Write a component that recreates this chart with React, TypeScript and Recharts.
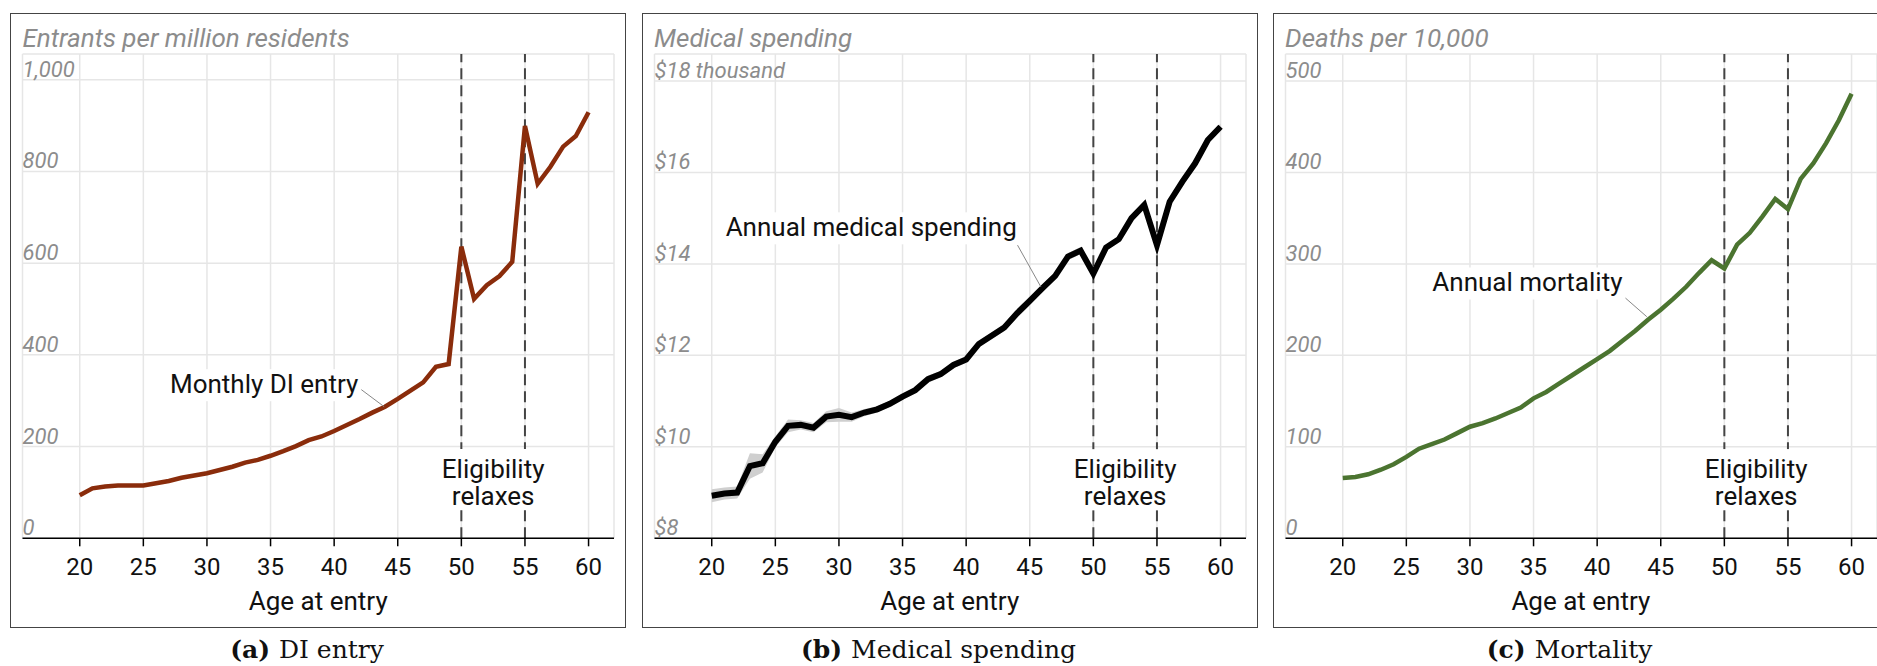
import React from 'react';
import {
  ComposedChart,
  Line,
  Area,
  XAxis,
  YAxis,
  CartesianGrid,
  ReferenceLine,
  ReferenceDot,
} from 'recharts';

// age at entry, one point per year
const ages = [
  20, 21, 22, 23, 24, 25, 26, 27, 28, 29,
  30, 31, 32, 33, 34, 35, 36, 37, 38, 39,
  40, 41, 42, 43, 44, 45, 46, 47, 48, 49,
  50, 51, 52, 53, 54, 55, 56, 57, 58, 59,
  60,
];

// monthly DI entrants per million residents
const diEntry = [
  94, 109, 113, 115, 115, 115, 120, 125, 132, 137,
  142, 149, 156, 165, 171, 180, 190, 201, 214, 222,
  234, 247, 260, 274, 287, 304, 322, 340, 374, 380,
  636, 522, 552, 572, 603, 899, 773, 810, 854, 877,
  929,
];

// annual medical spending, $ thousand
const medSpending = [
  8.93, 8.98, 9.0, 9.58, 9.64, 10.11, 10.46, 10.48, 10.42, 10.66,
  10.7, 10.65, 10.75, 10.82, 10.94, 11.1, 11.24, 11.48, 11.59, 11.79,
  11.91, 12.25, 12.43, 12.61, 12.92, 13.19, 13.47, 13.74, 14.16, 14.29,
  13.79, 14.36, 14.54, 15.0, 15.29, 14.41, 15.36, 15.8, 16.2, 16.71,
  17.0,
];

// half width of the grey confidence band around medical spending
const medBand = [
  0.14, 0.13, 0.13, 0.28, 0.2, 0.12, 0.14, 0.1, 0.1, 0.12,
  0.15, 0.1, 0.08, 0.07, 0.07, 0.07, 0.07, 0.08, 0.07, 0.07,
  0.07, 0.07, 0.07, 0.08, 0.1, 0.1, 0.08, 0.07, 0.08, 0.08,
  0.07, 0.07, 0.07, 0.07, 0.07, 0.07, 0.07, 0.07, 0.07, 0.07,
  0.07,
];

// annual deaths per 10,000
const mortality = [
  66, 67, 70, 75, 81, 89, 98, 103, 108, 115,
  122, 126, 131, 137, 143, 153, 160, 169, 178, 187,
  196, 205, 216, 227, 239, 250, 262, 275, 290, 304,
  295, 321, 334, 352, 371, 360, 393, 410, 432, 457,
  486,
];

const ageTicks = [20, 25, 30, 35, 40, 45, 50, 55, 60];
const diTicks = [0, 200, 400, 600, 800, 1000];
const medTicks = [8, 10, 12, 14, 16, 18];
const mortTicks = [0, 100, 200, 300, 400, 500];
const cutoffs = [50, 55];

const FONT = 'Roboto, Lato, sans-serif';
const SERIF = '"DejaVu Serif", serif';
const BOX_W = 616;
const BOX_TOP = 12.5;
const BOX_H = 615.5;
const PAD = 12.5;
const PLOT_W = 591.5;
const PLOT_TOP = 54;
const PLOT_BOTTOM = 538.3;
const CHART_H = 666;
const XAXIS_H = 30;
const NOTE_SIZE = 26;

let ctx: CanvasRenderingContext2D | null = null;
const measure = (text: string, font: string) => {
  if (!ctx) ctx = document.createElement('canvas').getContext('2d');
  if (!ctx) return text.length * 12;
  ctx.font = font;
  return ctx.measureText(text).width;
};

const fmtNum = (v: number) => v.toLocaleString('en-US');
const fmtMed = (v: number) => (v === 18 ? '$18 thousand' : `$${v}`);

const YTick = (props: any) => (
  <text
    x={props.x}
    y={props.y - 3}
    fill="#8c8c8c"
    fontStyle="italic"
    fontSize={22}
    fontFamily={FONT}
  >
    {props.fmt(props.payload.value)}
  </text>
);

const SeriesLabel = (props: any) => {
  const { cx, cy, text } = props;
  const w = measure(text, `${NOTE_SIZE}px ${FONT}`);
  return (
    <g>
      <rect x={cx - w - 3} y={cy - 15} width={w + 6} height={32} fill="#fff" />
      <text x={cx} y={cy + 9} textAnchor="end" fontSize={NOTE_SIZE} fontFamily={FONT} fill="#111">
        {text}
      </text>
    </g>
  );
};

const EligLabel = (props: any) => {
  const { cx, cy } = props;
  const w = measure('Eligibility', `${NOTE_SIZE}px ${FONT}`) + 8;
  return (
    <g>
      <rect x={cx - w / 2} y={cy - 33.8} width={w} height={61} fill="#fff" />
      <text textAnchor="middle" fontSize={NOTE_SIZE} fontFamily={FONT} fill="#111">
        <tspan x={cx} y={cy - 4.5}>Eligibility</tspan>
        <tspan x={cx} y={cy + 22.2}>relaxes</tspan>
      </text>
    </g>
  );
};

interface PanelProps {
  left: number;
  values: number[];
  band?: number[];
  color: string;
  width: number;
  domain: [number, number];
  ticks: number[];
  fmt: (v: number) => string;
  label: string;
  labelAt: [number, number];
  leader: [number, number, number, number];
  eligY: number;
}

const Panel = ({ left, values, band, color, width, domain, ticks, fmt, label, labelAt, leader, eligY }: PanelProps) => {
  const data = ages.map((age, i) => ({
    age,
    v: values[i],
    range: band ? [values[i] - band[i], values[i] + band[i]] : undefined,
  }));
  return (
    <div style={{ position: 'absolute', left, top: 0, width: BOX_W, height: CHART_H }}>
      <ComposedChart
        width={BOX_W}
        height={CHART_H}
        data={data}
        margin={{ top: PLOT_TOP, left: PAD - 1, right: BOX_W - PAD - PLOT_W, bottom: CHART_H - PLOT_BOTTOM - XAXIS_H }}
      >
        <CartesianGrid stroke="#e6e6e6" strokeWidth={1.5} />
        <XAxis
          dataKey="age"
          type="number"
          domain={[15.5, 62]}
          ticks={ageTicks}
          interval={0}
          height={XAXIS_H}
          axisLine={{ stroke: '#000', strokeWidth: 1.5 }}
          tickLine={{ stroke: '#000', strokeWidth: 1.5 }}
          tickSize={8}
          tickMargin={12}
          tick={{ fill: '#111', fontSize: 24, fontFamily: FONT }}
        />
        <YAxis
          type="number"
          domain={domain}
          ticks={ticks}
          interval={0}
          width={1}
          axisLine={false}
          tickLine={false}
          tickSize={0}
          tickMargin={0}
          allowDataOverflow
          tick={(p: any) => <YTick {...p} fmt={fmt} />}
        />
        {cutoffs.map((c) => (
          <ReferenceLine key={c} x={c} stroke="#444" strokeWidth={2} strokeDasharray="11 6" />
        ))}
        {band && (
          <Area
            dataKey="range"
            stroke="none"
            fill="#cfcfcf"
            fillOpacity={1}
            isAnimationActive={false}
            activeDot={false}
          />
        )}
        <Line
          dataKey="v"
          type="linear"
          stroke={color}
          strokeWidth={width}
          dot={false}
          activeDot={false}
          strokeLinejoin="miter"
          isAnimationActive={false}
        />
        <ReferenceLine
          segment={[
            { x: leader[0], y: leader[1] },
            { x: leader[2], y: leader[3] },
          ]}
          stroke="#888"
          strokeWidth={1}
        />
        <ReferenceDot
          x={labelAt[0]}
          y={labelAt[1]}
          r={0}
          shape={(p: any) => <SeriesLabel {...p} text={label} />}
        />
        <ReferenceDot x={52.5} y={eligY} r={0} shape={(p: any) => <EligLabel {...p} />} />
      </ComposedChart>
    </div>
  );
};

const boxLefts = [10, 641.5, 1272.6];
const titles = ['Entrants per million residents', 'Medical spending', 'Deaths per 10,000'];
const captions: [string, string][] = [
  ['(a)', 'DI entry'],
  ['(b)', 'Medical spending'],
  ['(c)', 'Mortality'],
];

export default function App() {
  return (
    <div style={{ position: 'absolute', left: 0, top: 0, width: 1877, height: 666, background: '#fff', overflow: 'hidden' }}>
      {boxLefts.map((l) => (
        <div
          key={l}
          style={{
            position: 'absolute',
            left: l,
            top: BOX_TOP,
            width: BOX_W,
            height: BOX_H,
            border: '1.5px solid #444',
            boxSizing: 'border-box',
          }}
        />
      ))}
      <Panel
        left={boxLefts[0]}
        values={diEntry}
        color="#8a2c0b"
        width={4.5}
        domain={[0, 1056]}
        ticks={diTicks}
        fmt={fmtNum}
        label="Monthly DI entry"
        labelAt={[41.9, 336]}
        leader={[42.0, 327, 43.93, 287]}
        eligY={121}
      />
      <Panel
        left={boxLefts[1]}
        values={medSpending}
        band={medBand}
        color="#000"
        width={6}
        domain={[8, 18.59]}
        ticks={medTicks}
        fmt={fmtMed}
        label="Annual medical spending"
        labelAt={[43.98, 14.8]}
        leader={[44.04, 14.41, 45.87, 13.5]}
        eligY={9.21}
      />
      <Panel
        left={boxLefts[2]}
        values={mortality}
        color="#4b7430"
        width={4.5}
        domain={[0, 529.5]}
        ticks={mortTicks}
        fmt={fmtNum}
        label="Annual mortality"
        labelAt={[41.99, 279.7]}
        leader={[42.04, 264.9, 43.9, 242.3]}
        eligY={60.6}
      />
      <svg width={1877} height={666} style={{ position: 'absolute', left: 0, top: 0, pointerEvents: 'none' }}>
        {boxLefts.map((l, i) => (
          <g key={l}>
            <text x={l + PAD} y={46.7} fill="#8c8c8c" fontStyle="italic" fontSize={26} fontFamily={FONT}>
              {titles[i]}
            </text>
            <text x={l + PAD + PLOT_W / 2} y={610} textAnchor="middle" fill="#111" fontSize={26} fontFamily={FONT}>
              Age at entry
            </text>
            <text x={l + BOX_W / 2 - 11} y={658.3} textAnchor="middle" fill="#111" fontSize={25} fontFamily={SERIF}>
              <tspan fontWeight="bold">{captions[i][0]}</tspan>
              <tspan dx={9}>{captions[i][1]}</tspan>
            </text>
          </g>
        ))}
      </svg>
    </div>
  );
}
